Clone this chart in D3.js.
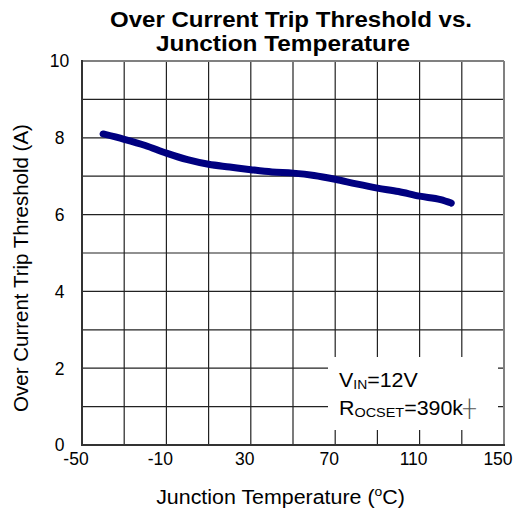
<!DOCTYPE html>
<html><head><meta charset="utf-8">
<script src="https://cdn.jsdelivr.net/npm/d3@7"></script>
<style>body{margin:0;background:#fff}svg{display:block;font-family:"Liberation Sans",Arial,sans-serif}</style>
</head><body>
<svg id="c" width="525" height="513"></svg>
<script>
const temps = [-40,-30,-20,-10,0,10,20,30,40,50,60,70,80,90,100,110,120,125];
const threshold = [8.10,7.96,7.80,7.60,7.43,7.31,7.24,7.17,7.11,7.08,7.02,6.92,6.80,6.69,6.60,6.48,6.39,6.30];
const xTickLabels = [-50,-10,30,70,110,150];
const yTickLabels = [0,2,4,6,8,10];
const titleLines = ["Over Current Trip Threshold vs.","Junction Temperature"];
const xTitle = "Junction Temperature (";
const yTitle = "Over Current Trip Threshold (A)";

const svg = d3.select("#c");
const x = d3.scaleLinear().domain([-50,150]).range([82,504]);
const y = d3.scaleLinear().domain([0,10]).range([445,61]);

// grid
const g = svg.append("g");
g.selectAll("line.vx").data(d3.range(-30,150,20)).join("line")
 .attr("x1",d=>x(d)).attr("x2",d=>x(d)).attr("y1",y(0)).attr("y2",y(10))
 .attr("stroke","#222").attr("stroke-width",1.2);
g.selectAll("line.hy").data(d3.range(1,10,1)).join("line")
 .attr("y1",d=>y(d)).attr("y2",d=>y(d)).attr("x1",x(-50)).attr("x2",x(150))
 .attr("stroke","#222").attr("stroke-width",1.2);
// borders
g.append("line").attr("x1",x(-50)).attr("x2",x(150)).attr("y1",y(10)).attr("y2",y(10)).attr("stroke","#808080").attr("stroke-width",2);
g.append("line").attr("x1",x(150)).attr("x2",x(150)).attr("y1",y(10)).attr("y2",y(0)).attr("stroke","#808080").attr("stroke-width",2);
g.append("line").attr("x1",x(-50)).attr("x2",x(-50)).attr("y1",y(10)-1).attr("y2",y(0)+1).attr("stroke","#333").attr("stroke-width",2);
g.append("line").attr("x1",x(-50)-1).attr("x2",x(150)+1).attr("y1",y(0)).attr("y2",y(0)).attr("stroke","#333").attr("stroke-width",2);

// curve
const pts = temps.map((t,i)=>[t,threshold[i]]);
svg.append("path").datum(pts)
 .attr("d", d3.line().x(d=>x(d[0])).y(d=>y(d[1])).curve(d3.curveMonotoneX))
 .attr("fill","none").attr("stroke","#000080").attr("stroke-width",7).attr("stroke-linecap","round");

// legend box
svg.append("rect").attr("x",328).attr("y",357).attr("width",170).attr("height",73).attr("fill","#fff");
const sx = 1.07;
const l1 = svg.append("text").attr("transform",`translate(339,386.7) scale(${sx},1)`).attr("font-size",20).attr("fill","#000");
l1.append("tspan").text("V");
l1.append("tspan").attr("font-size",13).attr("dy",2.6).text("IN");
l1.append("tspan").attr("dy",-2.6).text("=12V");
const l2 = svg.append("text").attr("transform",`translate(339,415) scale(${sx},1)`).attr("font-size",20).attr("fill","#000");
l2.append("tspan").text("R");
l2.append("tspan").attr("font-size",13.5).attr("dy",1.7).text("OCSET");
l2.append("tspan").attr("dy",-1.7).text("=390k");
l2.append("tspan").attr("font-size",17).attr("dy",-1).attr("fill","#555").text("┼");

// tick labels
svg.selectAll("text.yt").data(yTickLabels).join("text")
 .attr("x",59.5).attr("y",d=>y(d)).attr("dy","0.36em").attr("text-anchor","middle")
 .attr("font-size",17.5).text(d=>d);
svg.selectAll("text.xt").data(xTickLabels).join("text")
 .attr("x",d=>x(d)-6).attr("y",465).attr("text-anchor","middle")
 .attr("font-size",17.5).text(d=>d);

// titles
svg.append("text").attr("x",291).attr("y",27).attr("text-anchor","middle").attr("font-weight","bold")
 .attr("font-size",22).attr("textLength",362).attr("lengthAdjust","spacingAndGlyphs").text(titleLines[0]);
svg.append("text").attr("x",283).attr("y",51).attr("text-anchor","middle").attr("font-weight","bold")
 .attr("font-size",22).attr("textLength",254).attr("lengthAdjust","spacingAndGlyphs").text(titleLines[1]);

const xt = svg.append("text").attr("transform",`translate(280.5,504) scale(${sx},1)`).attr("text-anchor","middle").attr("font-size",20);
xt.append("tspan").text(xTitle);
xt.append("tspan").attr("font-size",13).attr("dy",-8).text("o");
xt.append("tspan").attr("dy",8).text("C)");

svg.append("text").attr("transform","translate(28,268) rotate(-90)").attr("text-anchor","middle")
 .attr("font-size",20.5).text(yTitle);
</script>
</body></html>
